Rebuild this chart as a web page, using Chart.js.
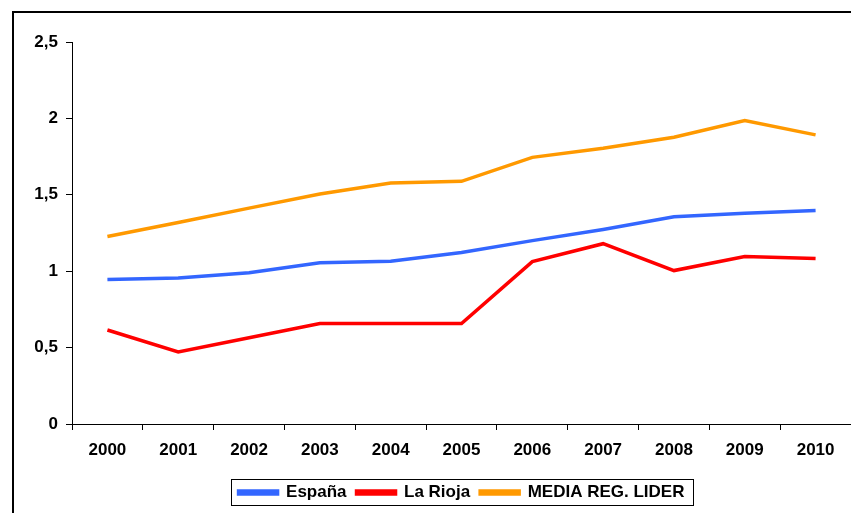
<!DOCTYPE html>
<html>
<head>
<meta charset="utf-8">
<script src="https://cdn.jsdelivr.net/npm/chart.js@4/dist/chart.umd.min.js"></script>
<style>
  html, body { margin: 0; padding: 0; background: #fff; }
  #wrap { width: 851px; height: 513px; }
</style>
</head>
<body>
<div id="wrap"><canvas id="chart" width="851" height="513"></canvas></div>
<script>
// datos
var years = ['2000', '2001', '2002', '2003', '2004', '2005', '2006', '2007', '2008', '2009', '2010'];
var espana = [0.945, 0.956, 0.99, 1.055, 1.065, 1.122, 1.2, 1.273, 1.356, 1.38, 1.398];
var laRioja = [0.615, 0.472, 0.565, 0.658, 0.658, 0.658, 1.063, 1.18, 1.004, 1.096, 1.083];
var mediaLider = [1.227, 1.319, 1.413, 1.505, 1.577, 1.588, 1.745, 1.805, 1.877, 1.986, 1.892];
var yTicks = [0, 0.5, 1, 1.5, 2, 2.5];

var FONT = "'Liberation Sans', Arial, sans-serif";

// marco exterior y caja de la leyenda
var framePlugin = {
    id: 'frame',
    beforeDraw: function (chart) {
        var ctx = chart.ctx;
        ctx.save();
        ctx.fillStyle = '#fff';
        ctx.fillRect(0, 0, chart.width, chart.height);
        ctx.strokeStyle = '#000';
        ctx.lineWidth = 2;
        ctx.strokeRect(13, 12, chart.width + 20, chart.height + 20);
        ctx.restore();
    },
    afterDraw: function (chart) {
        var boxes = chart.legend.legendHitBoxes;
        if (!boxes || !boxes.length) return;
        var first = boxes[0], last = boxes[boxes.length - 1];
        var ctx = chart.ctx;
        ctx.save();
        ctx.strokeStyle = '#000';
        ctx.lineWidth = 1;
        ctx.strokeRect(Math.round(first.left) - 7.5, Math.round(first.top) - 4.5,
            Math.round(last.left + last.width - first.left) + 16, Math.round(first.height) + 9);
        ctx.restore();
    }
};

function dataset(label, values, color) {
    return {
        label: label,
        data: values,
        borderColor: color,
        backgroundColor: color,
        borderWidth: 3.5,
        pointRadius: 0,
        tension: 0,
        fill: false
    };
}

var ctx = document.getElementById('chart').getContext('2d');
var chart = new Chart(ctx, {
    type: 'line',
    data: {
        labels: years,
        datasets: [
            dataset('España', espana, '#3366FF'),
            dataset('La Rioja', laRioja, '#FF0000'),
            dataset('MEDIA REG. LIDER', mediaLider, '#FF9900')
        ]
    },
    options: {
        responsive: false,
        animation: false,
        layout: { padding: { top: 42, left: 0, right: 0, bottom: 2 } },
        plugins: {
            tooltip: { enabled: false },
            legend: {
                position: 'bottom',
                fullSize: false,
                labels: {
                    boxWidth: 39,
                    boxHeight: 3,
                    padding: 10,
                    color: '#000',
                    font: { family: FONT, size: 17, weight: 'bold' }
                }
            }
        },
        scales: {
            x: {
                offset: true,
                grid: { offset: true, drawOnChartArea: false, drawTicks: true, tickLength: 6, color: '#000' },
                border: { display: true, color: '#000', width: 1 },
                ticks: { color: '#000', padding: 10, font: { family: FONT, size: 17, weight: 'bold' } },
                afterFit: function (scale) { scale.height = 50; }
            },
            y: {
                min: 0,
                max: 2.5,
                afterBuildTicks: function (scale) {
                    scale.ticks = yTicks.map(function (v) { return { value: v }; });
                },
                grid: { drawOnChartArea: false, drawTicks: true, tickLength: 6, color: '#000' },
                border: { display: true, color: '#000', width: 1 },
                ticks: {
                    color: '#000',
                    padding: 8,
                    font: { family: FONT, size: 17, weight: 'bold' },
                    callback: function (v) { return String(v).replace('.', ','); }
                },
                afterFit: function (scale) { scale.width = 72; }
            }
        }
    },
    plugins: [framePlugin]
});
</script>
</body>
</html>
